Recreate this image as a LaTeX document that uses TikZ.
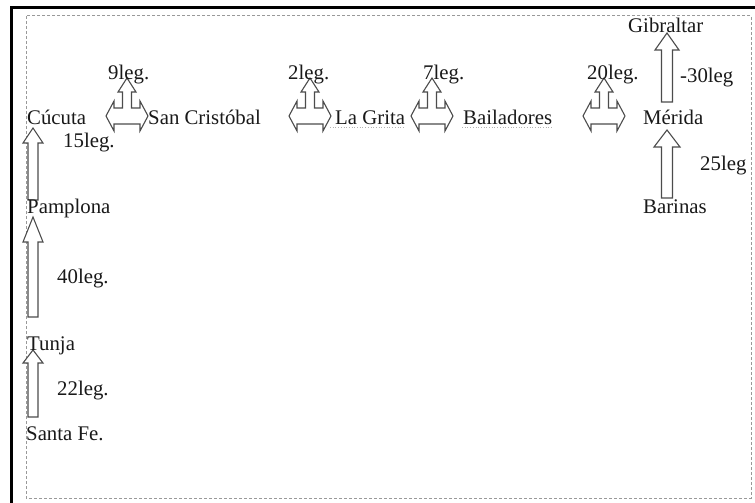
\documentclass[tikz,border=0pt]{standalone}
\usepackage{fontspec}
\setmainfont{Liberation Serif}
\begin{document}
\begin{tikzpicture}[x=1pt,y=-1pt,
  lbl/.style={anchor=base west,inner sep=0pt,text=black!90,font=\fontsize{20.8}{25}\selectfont},
  blk/.style={draw=black!70,fill=white,line width=1.1pt,line join=miter},
  faint/.style={draw=black!30,dotted,line width=0.7pt}]
\useasboundingbox (0,0) rectangle (755,503);
\fill[white] (0,0) rectangle (755,503);
% frames
\draw[line width=3pt] (11,503) -- (11,8) -- (755,8);
\draw[black!40,densely dashed,line width=1pt] (26,16) rectangle (751,498);
% three-way arrows
\newcommand{\lruarrow}[2]{%
  \draw[blk] (#1-21,#2) -- (#1-13,#2-15) -- (#1-13,#2-8) -- (#1-4.5,#2-8) -- (#1-4.5,#2-24)
    -- (#1-9,#2-24) -- (#1,#2-38) -- (#1+9,#2-24) -- (#1+4.5,#2-24) -- (#1+4.5,#2-8)
    -- (#1+13,#2-8) -- (#1+13,#2-15) -- (#1+21,#2) -- (#1+13,#2+15) -- (#1+13,#2+8)
    -- (#1-13,#2+8) -- (#1-13,#2+15) -- cycle;}
\newcommand{\uparrowblk}[7]{% cx, ybottom, yheadbase, ytip, shafthalf, headhalf
  \draw[blk] (#1-#5,#2) -- (#1-#5,#3) -- (#1-#6,#3) -- (#1,#4) -- (#1+#6,#3) -- (#1+#5,#3) -- (#1+#5,#2) -- cycle;}
\lruarrow{127}{116}
\lruarrow{310}{116}
\lruarrow{432}{116}
\lruarrow{604}{116}
% vertical arrows
\uparrowblk{33}{200}{143}{128}{5}{10}{}
\uparrowblk{33}{317}{242}{217}{5}{10}{}
\uparrowblk{33}{417}{363}{350}{5}{10}{}
\uparrowblk{667}{102}{50}{33}{5.5}{12}{}
\uparrowblk{667}{198}{147}{130}{5.5}{13}{}
% faint text-box traces
\draw[faint] (330,127) -- (405,127);
\draw[faint] (462,127) -- (553,127);
% labels
\node[lbl] (cucuta) at (27,124) {Cúcuta};
\node[lbl] (l15) at (63,147) {15leg.};
\node[lbl] (sancris) at (148,124) {San Cristóbal};
\node[lbl] (lagrita) at (335,124) {La Grita};
\node[lbl] (bailadores) at (463,124) {Bailadores};
\node[lbl] (merida) at (643,124) {Mérida};
\node[lbl] (gibraltar) at (628,33) {Gibraltar};
\node[lbl] (l30) at (680,82) {-30leg};
\node[lbl] (l25) at (700,170) {25leg};
\node[lbl] (barinas) at (643,213) {Barinas};
\node[lbl] (pamplona) at (27,213) {Pamplona};
\node[lbl] (l40) at (57,283) {40leg.};
\node[lbl] (tunja) at (27,350) {Tunja};
\node[lbl] (l22) at (57,395) {22leg.};
\node[lbl] (santafe) at (26,440) {Santa Fe.};
\node[lbl] (l9) at (108,79) {9leg.};
\node[lbl] (l2) at (288,79) {2leg.};
\node[lbl] (l7) at (423,79) {7leg.};
\node[lbl] (l20) at (587,79) {20leg.};
\end{tikzpicture}
\end{document}
